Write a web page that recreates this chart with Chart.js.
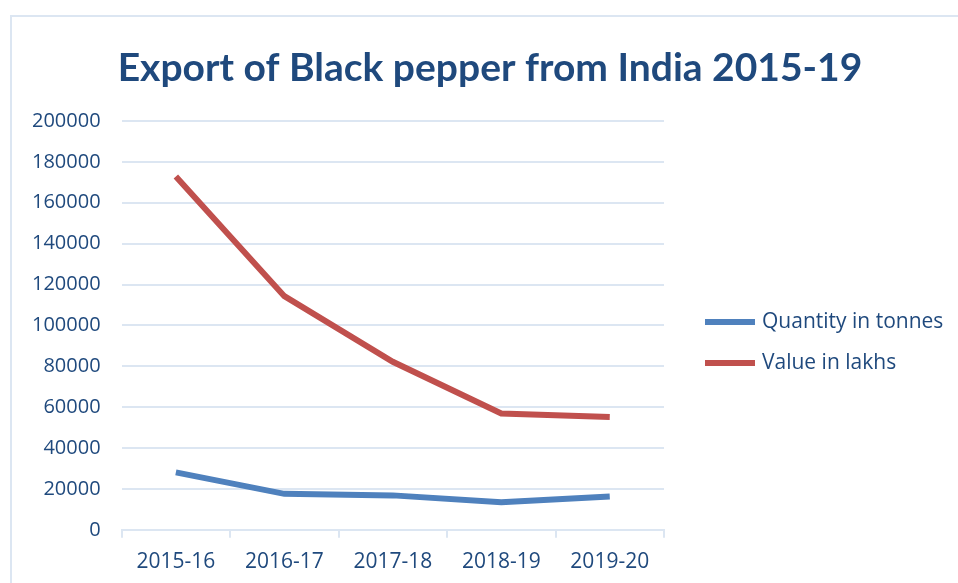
<!DOCTYPE html>
<html>
<head>
<meta charset="utf-8">
<script src="https://cdn.jsdelivr.net/npm/chart.js@4"></script>
<style>
  html, body { margin: 0; padding: 0; background: #fff; }
  #wrap { position: relative; width: 958px; height: 583px; overflow: hidden; }
  #frame { position: absolute; left: 10px; top: 15px; width: 1000px; height: 700px; border: 2px solid #DCE6F2; }
  #chart { position: absolute; left: 0; top: 0; }
</style>
</head>
<body>
<div id="wrap">
  <div id="frame"></div>
  <canvas id="chart" width="958" height="583"></canvas>
</div>
<script>
// --- Chart data ---
const YEARS = ['2015-16', '2016-17', '2017-18', '2018-19', '2019-20'];
const QUANTITY = [28100, 17600, 16840, 13540, 16250];
const VALUE = [172800, 114300, 82200, 56900, 55200];
const SERIES_NAMES = ['Quantity in tonnes', 'Value in lakhs'];
const TITLE = 'Export of Black pepper from India 2015-19';
const Y_MAX = 200000;
const Y_STEP = 20000;

const BLUE = '#4F81BD';
const RED = '#C0504D';
const TEXT = '#1F497D';
const GRID = '#DCE6F2';
const FONT = "'Open Sans', sans-serif";
const TITLE_FONT = "bold 39px Lato, sans-serif";

// title centred on the whole frame + legend at the right, like the office chart
const decor = {
  id: 'decor',
  afterDraw(chart) {
    const ctx = chart.ctx;
    ctx.save();
    ctx.fillStyle = TEXT;
    ctx.font = TITLE_FONT;
    ctx.textAlign = 'center';
    ctx.textBaseline = 'middle';
    ctx.fillText(TITLE, 490, 68);

    ctx.textAlign = 'left';
    ctx.font = '21px ' + FONT;
    chart.data.datasets.forEach((ds, i) => {
      const y = 322 + i * 41;
      ctx.fillStyle = ds.borderColor;
      ctx.fillRect(705, y - 3, 50, 6);
      ctx.fillStyle = TEXT;
      ctx.fillText(ds.label, 762, y);
    });
    ctx.restore();
  }
};

new Chart(document.getElementById('chart').getContext('2d'), {
  type: 'line',
  data: {
    labels: YEARS,
    datasets: [
      { label: SERIES_NAMES[0], data: QUANTITY, borderColor: BLUE, backgroundColor: BLUE },
      { label: SERIES_NAMES[1], data: VALUE, borderColor: RED, backgroundColor: RED }
    ]
  },
  options: {
    responsive: false,
    animation: false,
    devicePixelRatio: 1,
    layout: { padding: { left: 11, right: 294, top: 121, bottom: -4 } },
    elements: {
      line: { borderWidth: 6, tension: 0, borderCapStyle: 'butt' },
      point: { radius: 0, hoverRadius: 0 }
    },
    plugins: {
      legend: { display: false },
      tooltip: { enabled: false },
      title: { display: false }
    },
    scales: {
      x: {
        offset: true,
        grid: { offset: true, drawOnChartArea: false, tickLength: 8, color: GRID, lineWidth: 2 },
        border: { color: GRID, width: 2 },
        ticks: { color: TEXT, font: { family: FONT, size: 21 }, padding: 12 }
      },
      y: {
        min: 0,
        max: Y_MAX,
        grid: { drawTicks: false, color: GRID, lineWidth: 2 },
        border: { display: false },
        ticks: {
          stepSize: Y_STEP,
          color: TEXT,
          font: { family: FONT, size: 20 },
          padding: 21,
          callback: v => String(v)
        }
      }
    }
  },
  plugins: [decor]
});
</script>
</body>
</html>
